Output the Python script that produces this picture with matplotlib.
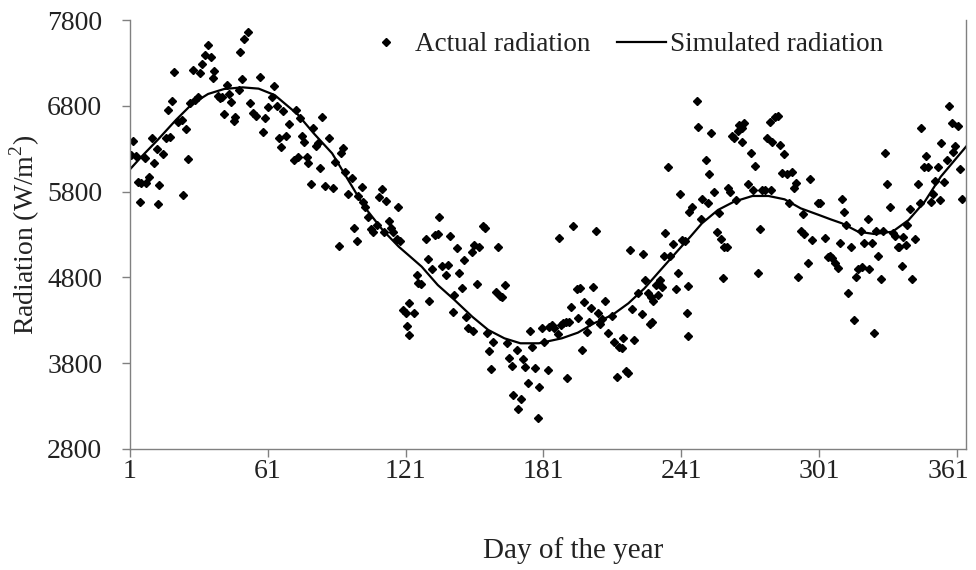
import matplotlib.pyplot as plt
import matplotlib.transforms as mtransforms
import numpy as np

# measured daily radiation (day of year, W/m2)
actual_day = [
    1.4, 2.4, 3.5, 4.6, 5.5, 5.8, 7.5, 7.8, 9.3, 10.4, 11.6, 12.9, 13.3, 13.8, 15.4, 16.5, 17.4, 18.4, 19.4, 20.3,
    22.0, 23.5, 24.2, 25.2, 26.4, 27.3, 28.4, 29.3, 30.5, 31.5, 32.5, 33.7, 35.1, 36.3, 37.3, 37.7, 39.2, 40.3,
    40.9, 42.1, 43.1, 44.1, 45.0, 46.1, 46.7, 48.5, 48.9, 49.9, 50.8, 52.2, 53.2, 54.7, 55.7, 57.6, 59.0, 59.8,
    61.2, 62.7, 63.8, 64.9, 65.9, 66.7, 67.7, 68.8, 70.2, 72.5, 73.1, 74.0, 75.0, 75.7, 76.9, 77.9, 78.6, 79.8,
    80.8, 81.8, 82.7, 83.7, 84.7, 85.9, 87.6, 89.5, 90.2, 92.0, 92.9, 93.9, 94.6, 95.8, 97.8, 98.7, 99.7, 100.4,
    101.9, 102.6, 103.3, 104.8, 105.9, 106.9, 108.4, 109.4, 110.6, 111.7, 112.3, 113.8, 114.6, 115.6, 117.1,
    117.5, 118.5, 119.9, 121.0, 121.4, 122.5, 122.5, 124.8, 125.8, 126.5, 127.7, 129.7, 130.6, 131.2, 132.6,
    133.8, 134.9, 135.5, 136.7, 138.4, 139.3, 140.3, 141.8, 142.2, 143.3, 144.2, 145.4, 146.5, 147.1, 148.0,
    149.7, 150.9, 150.5, 151.9, 152.9, 154.8, 155.5, 156.3, 157.3, 158.2, 159.2, 160.2, 161.3, 162.1, 163.1,
    164.3, 165.0, 166.0, 167.2, 167.9, 169.4, 170.1, 171.2, 172.2, 173.0, 174.1, 175.1, 176.1, 177.3, 178.5,
    179.1, 180.2, 181.4, 182.8, 183.4, 184.6, 185.7, 187.2, 187.8, 188.6, 189.6, 190.7, 191.1, 192.1, 193.0,
    194.0, 195.5, 196.2, 196.9, 197.9, 198.8, 199.8, 200.8, 201.7, 202.7, 203.7, 204.6, 205.6, 206.3, 207.8,
    208.9, 210.7, 211.8, 212.9, 213.9, 215.1, 215.8, 216.8, 217.7, 218.7, 219.7, 220.6, 222.0, 223.8, 224.5,
    225.2, 226.4, 227.4, 227.8, 228.4, 228.8, 229.9, 231.0, 231.7, 232.7, 233.6, 233.9, 235.4, 236.1, 237.5,
    238.6, 239.4, 240.4, 241.4, 242.6, 243.3, 243.8, 244.1, 244.4, 245.9, 247.7, 248.4, 249.6, 250.2, 251.6,
    252.5, 253.1, 253.9, 255.4, 256.4, 257.4, 258.3, 259.3, 259.7, 260.8, 261.2, 262.2, 262.9, 264.1, 264.7,
    265.6, 266.2, 267.3, 267.6, 268.5, 269.9, 271.4, 272.4, 273.1, 274.3, 275.3, 276.3, 277.5, 278.2, 279.6,
    280.1, 280.7, 281.8, 283.0, 284.0, 285.0, 285.9, 286.9, 287.9, 289.1, 290.2, 290.8, 292.0, 293.2, 294.2,
    294.6, 296.0, 297.0, 298.0, 300.4, 301.4, 303.5, 304.7, 305.7, 306.7, 307.9, 309.1, 310.1, 311.1, 311.9,
    312.9, 313.7, 314.8, 316.3, 317.3, 318.0, 319.2, 319.8, 320.6, 322.1, 322.7, 323.9, 325.0, 326.0, 326.7,
    327.9, 328.9, 329.7, 330.8, 331.8, 333.3, 334.0, 335.2, 335.7, 336.9, 337.6, 338.7, 339.5, 340.5, 341.5,
    342.7, 343.9, 344.9, 345.6, 346.8, 347.4, 348.5, 349.7, 350.7, 351.4, 352.6, 353.6, 354.3, 355.5, 356.5,
    357.5, 358.7, 359.4, 360.4, 361.6, 362.3, 363.3,
]
actual_rad = [
    6227, 6394, 6219, 5916, 5675, 5904, 6188, 5896, 5974, 6421, 6137, 6293, 5652, 5877, 6234, 6429, 6751, 6440, 6860, 7198,
    6615, 6635, 5760, 6530, 6180, 6837, 7217, 6868, 6899, 7178, 7287, 7392, 7509, 7365, 7120, 7209, 6914, 6887,
    6899, 6704, 7042, 6938, 6848, 6627, 6673, 6984, 7431, 7108, 7575, 7664, 6829, 6720, 6681, 7140, 6498, 6654,
    6790, 6906, 7031, 6798, 6421, 6324, 6743, 6448, 6588, 6168, 6751, 6207, 6654, 6448, 6382, 6207, 6130, 5889,
    6537, 6331, 6370, 6071, 6666, 5865, 6421, 5838, 6149, 5170, 6254, 6304, 6032, 5772, 5955, 5372, 5228, 5749,
    5850, 5683, 5617, 5508, 5361, 5333, 5411, 5741, 5826, 5333, 5695, 5461, 5372, 5333, 5244,
    5617, 5228, 4421, 4382, 4235, 4129, 4506, 4381, 4828, 4731, 4723, 5244, 5011, 4529, 4894,
    5294, 5306, 5500, 4933, 4828, 4945, 5283, 4401, 4595, 5139, 4847, 4673, 5003, 4342, 4206,
    5100, 5178, 4179, 4723, 5158, 5399, 5372, 4156, 3946, 3729, 4051, 4634, 5150, 4583, 4575,
    4711, 4032, 3857, 3767, 3429, 3954, 3262, 3379, 3845, 3752, 3565, 4179, 3993, 3740, 3157,
    3527, 4206, 4051, 3721, 4226, 4245, 4206, 4140, 5255, 4245, 4272, 4284, 3624, 4284, 4451,
    5399, 4661, 4323, 4673, 3954, 4517, 4168, 4284, 4440, 4692, 5345, 4389, 4257, 4311, 4529,
    4156, 4350, 4051, 3635, 3993, 3973, 4090, 3713, 3682, 5119, 4428, 4070, 4622, 4373, 5073,
    4770, 4614, 4257, 4568, 4284, 4529, 4711, 4595, 4770, 4692, 5050, 5314, 6091, 5050, 5189,
    4661, 4855, 5768, 5236, 5228, 4389, 4117, 4700, 5566, 5624, 6860, 6557, 5477, 5710, 6168,
    5671, 6005, 6487, 5799, 5333, 5554, 5244, 4789, 5158, 5150, 5838, 5799, 6448, 6421, 5702,
    6510, 6576, 6382, 6537, 6596, 5889, 6254, 5819, 6098, 4855, 5361, 5819, 5819, 6421, 6615,
    5819, 6382, 6673, 6681, 6343, 6013, 6238, 6005, 5671, 6032, 5838, 5904, 4809, 5345, 5539,
    5306, 4972, 5943, 5236, 5663, 5663, 5255, 5042, 5050, 5023, 4964, 4906, 5197, 5710, 5566,
    5411, 4622, 5150, 4304, 4809, 4894, 5345, 4917, 5197, 5477, 4894, 5197, 4156, 5345, 5050,
    4778, 5345, 6246, 5889, 5617, 5314, 5283, 5150, 5158, 4933, 5275, 5178, 5411, 5593, 4778,
    5244, 5889, 5663, 6537, 6083, 6215, 6083, 5683, 5772, 5928, 6083, 5702, 6370, 5916, 6168,
    6798, 6603, 6265, 6331, 6565, 6059, 5710,
]

# simulated radiation curve
sim_day = [1, 6, 13, 21, 28, 35, 42, 50, 57, 64, 74, 81, 89, 96, 103, 111, 118, 123, 128, 135, 142, 150,
           157, 164, 171, 179, 189, 196, 203, 211, 218, 225, 232, 240, 245, 250, 257, 264, 272, 279, 286,
           293, 301, 306, 311, 318, 325, 333, 340, 347, 354, 365]
sim_rad = [6060, 6207, 6401, 6635, 6821, 6938, 6996, 7015, 7000, 6925, 6700, 6479, 6246, 5935, 5624, 5352,
           5158, 5042, 4925, 4711, 4544, 4342, 4187, 4090, 4032, 4032, 4090, 4156, 4265, 4362, 4498, 4673,
           4886, 5127, 5275, 5430, 5586, 5683, 5749, 5749, 5710, 5605, 5527, 5477, 5430, 5333, 5306, 5333,
           5469, 5683, 5974, 6324]

x_ticks = [1, 61, 121, 181, 241, 301, 361]
y_ticks = [2800, 3800, 4800, 5800, 6800, 7800]

plt.rcParams['font.family'] = ['Liberation Serif', 'DejaVu Serif']
plt.rcParams['mathtext.fontset'] = 'custom'
plt.rcParams['mathtext.rm'] = 'Liberation Serif'

fig = plt.figure(figsize=(9.76, 5.70), dpi=100)
ax = fig.add_axes([0.1332, 0.2123, 0.8566, 0.7526])

ax.plot(actual_day, actual_rad, linestyle='none', marker='D', markersize=3.9,
        color='black', label='Actual radiation')
ax.plot(sim_day, sim_rad, color='black', linewidth=1.6, label='Simulated radiation')

ax.set_xlim(1, 365)
ax.set_ylim(2800, 7800)
ax.set_xticks(x_ticks)
ax.set_yticks(y_ticks)

axis_grey = '#808080'
for side in ['left', 'bottom', 'right']:
    ax.spines[side].set_color(axis_grey)
    ax.spines[side].set_linewidth(1.0)
ax.spines['top'].set_visible(False)

ax.tick_params(axis='both', direction='out', length=6, width=1.0, color=axis_grey,
               labelsize=20, labelcolor='#222222')
ax.tick_params(axis='y', pad=14)
ax.tick_params(axis='x', pad=1)

# last day label sits against the right edge, nudge it inwards a little
last_label = ax.get_xticklabels()[-1]
last_label.set_transform(last_label.get_transform() +
                         mtransforms.ScaledTranslation(-6 / 72, 0, fig.dpi_scale_trans))

ax.set_xlabel('Day of the year', fontsize=21, color='#222222')
ax.set_ylabel('Radiation (W/m$^{2}$)', fontsize=20, color='#222222')
ax.xaxis.set_label_coords(0.53, -0.205)
ax.yaxis.set_label_coords(-0.105, 0.5)

ax.legend(loc='center', bbox_to_anchor=(0.589, 0.942), ncol=2, frameon=False,
          fontsize=19.5, handlelength=1.8, handletextpad=0.15, columnspacing=1.0,
          borderpad=0, labelcolor='#222222')

fig.savefig('out.png', dpi=100)
